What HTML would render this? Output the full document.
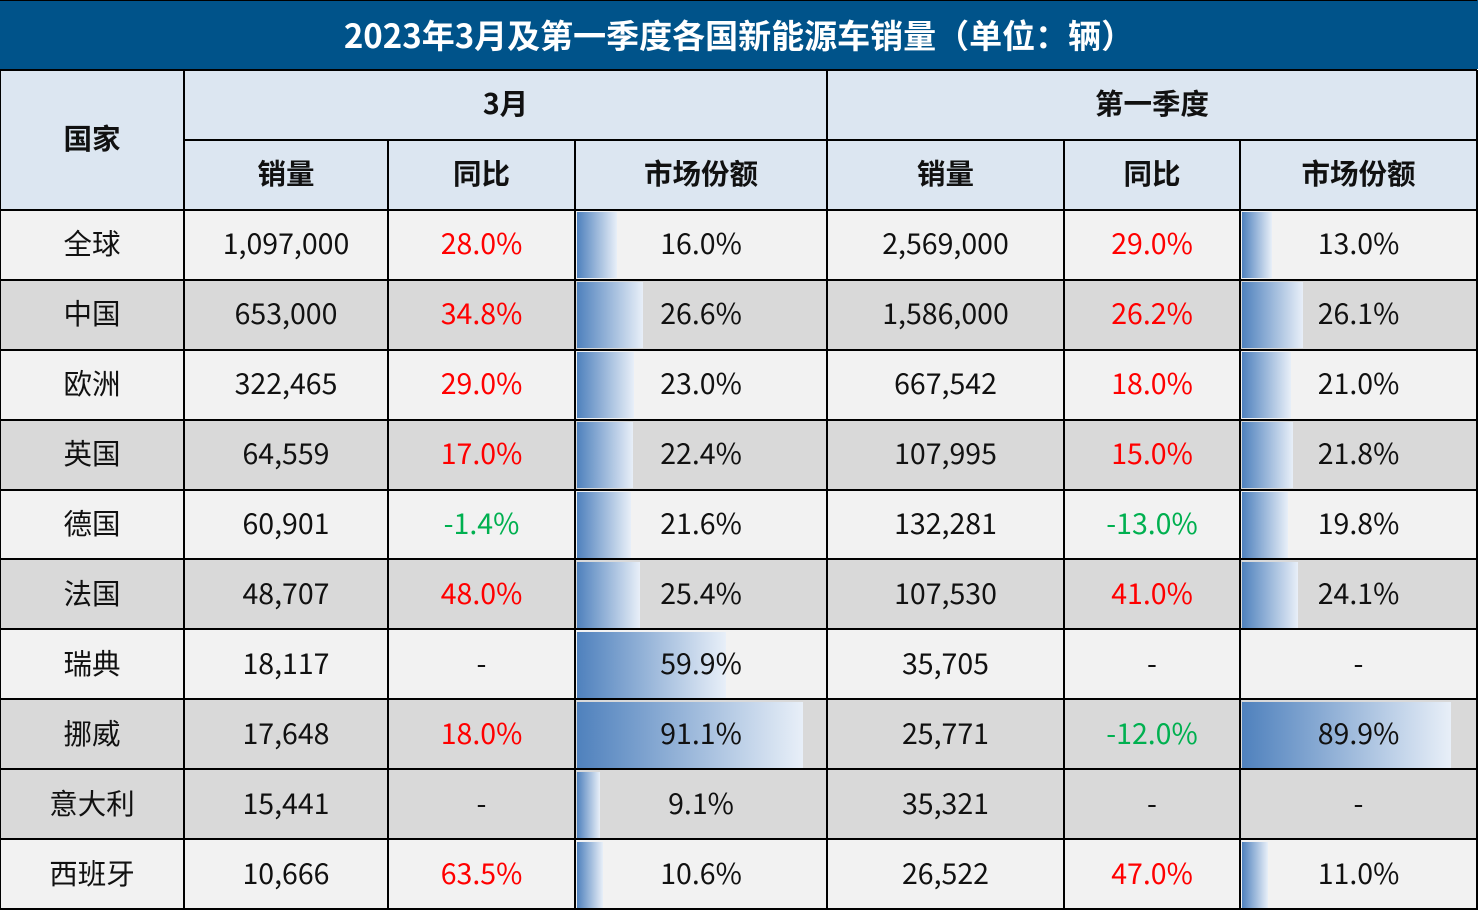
<!DOCTYPE html><html><head><meta charset="utf-8"><style>
body{margin:0;width:1478px;height:911px;background:#fff;overflow:hidden;font-family:"Noto Sans CJK SC","Liberation Sans",sans-serif;}
.c{position:absolute;box-sizing:border-box;display:flex;align-items:center;justify-content:center;font-size:28.5px;color:#111;line-height:1;}
.b{position:absolute;background:linear-gradient(to right,#4f81bd,#e8eff8);}
.l{position:absolute;background:#000;}
</style></head><body>
<div class="c" style="left:0;top:-1px;width:1478px;height:70px;background:#00538a;color:#fff;font-weight:bold;font-size:33px;">2023年3月及第一季度各国新能源车销量（单位：辆）</div>
<div id="t"></div>
<script>
var X=[0,184,388,575,827,1064,1240,1477];
var h='';
function cell(x0,x1,y0,y1,txt,st){h+='<div class="c" style="left:'+x0+'px;top:'+(y0-2)+'px;width:'+(x1-x0)+'px;height:'+(y1-y0)+'px;'+(st||'')+'">'+txt+'</div>';}
var hb='font-weight:bold;';
h+='<div style="position:absolute;left:0;top:70px;width:1477px;height:140px;background:#dce6f1"></div>';
cell(0,184,70,210,'国家',hb);
cell(184,827,70,140,'3月',hb);cell(827,1477,70,140,'第一季度',hb);
var hd=['销量','同比','市场份额','销量','同比','市场份额'];
for(var i=0;i<6;i++)cell(X[i+1],X[i+2],140,210,hd[i],hb);
var D=[['全球','1,097,000','28.0%','16.0%','2,569,000','29.0%','13.0%'],
['中国','653,000','34.8%','26.6%','1,586,000','26.2%','26.1%'],
['欧洲','322,465','29.0%','23.0%','667,542','18.0%','21.0%'],
['英国','64,559','17.0%','22.4%','107,995','15.0%','21.8%'],
['德国','60,901','-1.4%','21.6%','132,281','-13.0%','19.8%'],
['法国','48,707','48.0%','25.4%','107,530','41.0%','24.1%'],
['瑞典','18,117','-','59.9%','35,705','-','-'],
['挪威','17,648','18.0%','91.1%','25,771','-12.0%','89.9%'],
['意大利','15,441','-','9.1%','35,321','-','-'],
['西班牙','10,666','63.5%','10.6%','26,522','47.0%','11.0%']];
var dark=[0,1,0,1,0,1,0,1,1,0];
for(var r=0;r<10;r++){var y0=210+r*70,y1=y0+70;var bg=dark[r]?'#d9d9d9':'#f2f2f2';
 h+='<div style="position:absolute;left:0;top:'+y0+'px;width:1477px;height:70px;background:'+bg+'"></div>';
 [3,6].forEach(function(ci){var v=parseFloat(D[r][ci]);if(!isNaN(v)){var w=(X[ci+1]-X[ci]-4)*v/100;h+='<div class="b" style="left:'+(X[ci]+2)+'px;top:'+(y0+2)+'px;width:'+w+'px;height:66px"></div>';}});
 for(var c=0;c<7;c++){var t=D[r][c],col='#111';if((c==2||c==5)&&t!='-')col=t[0]=='-'?'#00b050':'#ff0000';cell(X[c],X[c+1],y0,y1,t,'color:'+col);}
}
var ys=[70,210,280,350,420,490,559,629,699,769,839,909];
ys.forEach(function(y){h+='<div class="l" style="left:0;top:'+(y-1)+'px;width:1477px;height:2px"></div>';});
h+='<div class="l" style="left:184px;top:139px;width:1293px;height:2px"></div>';
X.forEach(function(x,i){var top=(i==0||i==1||i==4||i==7)?70:140;h+='<div class="l" style="left:'+(x-1)+'px;top:'+top+'px;width:2px;height:'+(910-top)+'px"></div>';});
h+='<div class="l" style="left:0;top:0;width:1477px;height:1px"></div>';
document.getElementById('t').innerHTML=h;
</script>
</body></html>
